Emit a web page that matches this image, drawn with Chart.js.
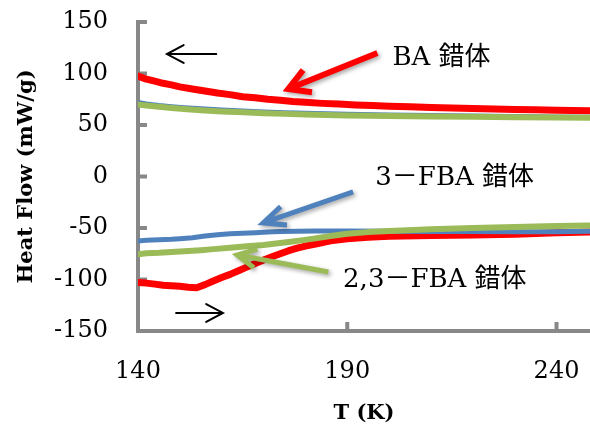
<!DOCTYPE html>
<html>
<head>
<meta charset="utf-8">
<script src="https://cdn.jsdelivr.net/npm/chart.js@4/dist/chart.umd.min.js"></script>
<style>
  html, body { margin: 0; padding: 0; background: #ffffff; }
  canvas { display: block; }
</style>
</head>
<body>
<canvas id="dsc" width="590" height="424"></canvas>
<script>
// DSC heat flow (mW/g) versus temperature T (K) for three complexes,
// each measured on cooling (upper curves) and heating (lower curves).

const baCoolT = [140,141,142,144,146,148,150,153,156,159,162,165,168,171,174,177,180,184,188,192,196,200,205,210,215,220,225,230,235,240,244,248];
const baCoolQ = [97.5,96,94.5,92.5,90.5,89,87,85,83,81,79.5,77.5,76.5,75,74,72.8,72,71,70.3,69.5,69,68.3,67.8,67,66.6,66,65.6,65,64.8,64.3,64.1,63.8];

const fba3CoolT = [140,142,145,148,151,155,160,165,170,175,180,185,190,200,210,220,230,240,248];
const fba3CoolQ = [72,70.5,69,67.8,66.8,65.8,64.5,63.6,62.7,62,61.4,60.9,60.4,59.7,59.2,58.7,58.2,57.8,57.5];

const fba23CoolT = [140,142,145,148,151,155,160,165,170,175,180,185,190,200,210,220,230,240,248];
const fba23CoolQ = [70,69,67.8,66.6,65.5,64.3,63.2,62.4,61.5,60.8,60.2,59.7,59.3,58.7,58.3,57.9,57.5,57.2,57];

const baHeatT = [140,142,144,146,148,150,152,154,156,158,160,162,164,166,168,170,172,174,176,178,180,183,186,190,195,200,210,220,230,240,248];
const baHeatQ = [-103,-103.5,-104.5,-105.5,-106,-106.5,-107.5,-108,-105,-101.5,-98,-95,-91.5,-88,-84.5,-81,-78,-75,-72,-69.5,-67.5,-65,-62.5,-60.5,-59,-58,-57.3,-56.8,-56,-54.5,-54];

const fba3HeatT = [140,142,145,148,150,153,156,159,162,165,168,171,174,178,182,186,190,200,210,220,230,240,248];
const fba3HeatQ = [-62.6,-62,-61.5,-61,-60.4,-59.5,-57.8,-56.5,-55.5,-55,-54.5,-54,-53.5,-53.1,-52.9,-53,-53,-53.1,-53.3,-53.5,-53.7,-53.6,-53.2];

const fba23HeatT = [140,142,145,148,152,155,158,162,166,170,173,176,179,182,186,190,195,200,210,220,230,240,248];
const fba23HeatQ = [-75.5,-74.5,-74,-73.2,-72.3,-71.5,-70.5,-69.2,-67.7,-66.5,-65,-63.6,-62,-60.3,-57.8,-55.6,-54,-53,-51.3,-50,-49,-48,-47.5];

const xTicks = [140, 190, 240];
const yTicks = [-150, -100, -50, 0, 50, 100, 150];

const xTitle = 'T (K)';
const yTitle = 'Heat Flow (mW/g)';

// Callout labels and the arrows pointing at the curves, in data units (T, heat flow)
const calloutNames = ['BA 錯体', '3－FBA 錯体', '2,3－FBA 錯体'];
const calloutAt = [[200.8, 115], [196.7, -1.5], [189, -100.5]];
const calloutArrows = [
  [[197.2, 119.9], [175.9, 85]],
  [[191.4, -15], [169.9, -45.1]],
  [[185.5, -92.7], [163.7, -76.2]]
];
const scanArrows = [
  [[158.7, 118.9], [146.9, 118.9]],   // cooling direction
  [[149.1, -132.5], [160.3, -132.5]]  // heating direction
];

const RED = '#ff0000', BLUE = '#4f81bd', GREEN = '#9bbb59', AXIS = '#888888';
const SERIF = '"DejaVu Serif", "Noto Sans CJK JP", serif';

const pts = (ts, qs) => ts.map((t, i) => ({ x: t, y: qs[i] }));
const line = (ts, qs, color, width) => ({
  data: pts(ts, qs), borderColor: color, backgroundColor: color,
  borderWidth: width, showLine: true, pointRadius: 0, tension: 0, fill: false,
  borderJoinStyle: 'round', borderCapStyle: 'round'
});

function arrow(ctx, x1, y1, x2, y2, len, ang) {
  const a = Math.atan2(y1 - y2, x1 - x2);
  ctx.beginPath();
  ctx.moveTo(x1, y1);
  ctx.lineTo(x2, y2);
  ctx.moveTo(x2 + len * Math.cos(a + ang), y2 + len * Math.sin(a + ang));
  ctx.lineTo(x2, y2);
  ctx.lineTo(x2 + len * Math.cos(a - ang), y2 + len * Math.sin(a - ang));
  ctx.stroke();
}

const inwardTicks = {
  id: 'inwardTicks',
  beforeDatasetsDraw(chart) {
    const { ctx, chartArea } = chart;
    const xs = chart.scales.x, ys = chart.scales.y;
    ctx.save();
    ctx.strokeStyle = AXIS;
    ctx.lineWidth = 4;
    xs.ticks.forEach(t => {
      const px = xs.getPixelForValue(t.value);
      ctx.beginPath();
      ctx.moveTo(px, chartArea.bottom);
      ctx.lineTo(px, chartArea.bottom - 9);
      ctx.stroke();
    });
    ys.ticks.forEach(t => {
      const py = ys.getPixelForValue(t.value);
      ctx.beginPath();
      ctx.moveTo(chartArea.left, py);
      ctx.lineTo(chartArea.left + 9, py);
      ctx.stroke();
    });
    ctx.restore();
  }
};

const callouts = {
  id: 'callouts',
  afterDatasetsDraw(chart) {
    const { ctx } = chart;
    const xs = chart.scales.x, ys = chart.scales.y;
    const P = p => [xs.getPixelForValue(p[0]), ys.getPixelForValue(p[1])];
    const colors = [RED, BLUE, GREEN];
    const heads = [[24, 0.52], [24, 0.42], [21, 0.47]];
    ctx.save();
    ctx.lineCap = 'butt';
    ctx.lineJoin = 'miter';
    ctx.shadowColor = 'rgba(0,0,0,0.35)';
    ctx.shadowBlur = 4;
    ctx.shadowOffsetX = 2;
    ctx.shadowOffsetY = 2;
    calloutArrows.forEach((ar, i) => {
      const [a, b] = [P(ar[0]), P(ar[1])];
      ctx.strokeStyle = colors[i];
      ctx.lineWidth = i === 0 ? 6 : 5;
      arrow(ctx, a[0], a[1], b[0], b[1], heads[i][0], heads[i][1]);
    });
    ctx.restore();

    ctx.save();
    ctx.strokeStyle = '#000000';
    ctx.lineWidth = 2;
    ctx.lineCap = 'round';
    scanArrows.forEach(ar => {
      const [a, b] = [P(ar[0]), P(ar[1])];
      arrow(ctx, a[0], a[1], b[0], b[1], 19, 0.49);
    });
    ctx.fillStyle = '#000000';
    ctx.font = '26px ' + SERIF;
    ctx.textAlign = 'left';
    ctx.textBaseline = 'middle';
    calloutNames.forEach((name, i) => {
      const p = P(calloutAt[i]);
      ctx.fillText(name, p[0], p[1]);
    });
    ctx.restore();
  }
};

new Chart(document.getElementById('dsc'), {
  type: 'scatter',
  data: {
    datasets: [
      line(fba23CoolT, fba23CoolQ, GREEN, 6),
      line(fba23HeatT, fba23HeatQ, GREEN, 6),
      line(fba3CoolT, fba3CoolQ, BLUE, 5),
      line(fba3HeatT, fba3HeatQ, BLUE, 5),
      line(baCoolT, baCoolQ, RED, 7),
      line(baHeatT, baHeatQ, RED, 7)
    ]
  },
  options: {
    responsive: false,
    animation: false,
    devicePixelRatio: 1,
    layout: { padding: { top: 22, left: 0, right: 0, bottom: 0 } },
    plugins: { legend: { display: false }, tooltip: { enabled: false } },
    scales: {
      x: {
        type: 'linear', min: 140, max: 248,
        afterBuildTicks: s => { s.ticks = xTicks.map(v => ({ value: v })); },
        afterFit: s => { s.height = 93; s.paddingLeft = 0; s.paddingRight = 0; },
        grid: { display: false, drawTicks: false },
        border: { display: true, color: AXIS, width: 4 },
        ticks: { color: '#000', padding: 26, font: { family: SERIF, size: 24 } },
        title: { display: true, text: xTitle, color: '#000', padding: { top: 0, bottom: 0 },
                 font: { family: SERIF, size: 21, weight: 'bold', lineHeight: 1 } }
      },
      y: {
        type: 'linear', min: -150, max: 150,
        afterBuildTicks: s => { s.ticks = yTicks.map(v => ({ value: v })); },
        afterFit: s => { s.width = 138; s.paddingTop = 0; s.paddingBottom = 0; },
        grid: { display: false, drawTicks: false },
        border: { display: true, color: AXIS, width: 4 },
        ticks: { color: '#000', padding: 30, font: { family: SERIF, size: 24 } },
        title: { display: true, text: yTitle, color: '#000', padding: { top: 14, bottom: 14 },
                 font: { family: SERIF, size: 21, weight: 'bold' } }
      }
    }
  },
  plugins: [inwardTicks, callouts]
});
</script>
</body>
</html>
